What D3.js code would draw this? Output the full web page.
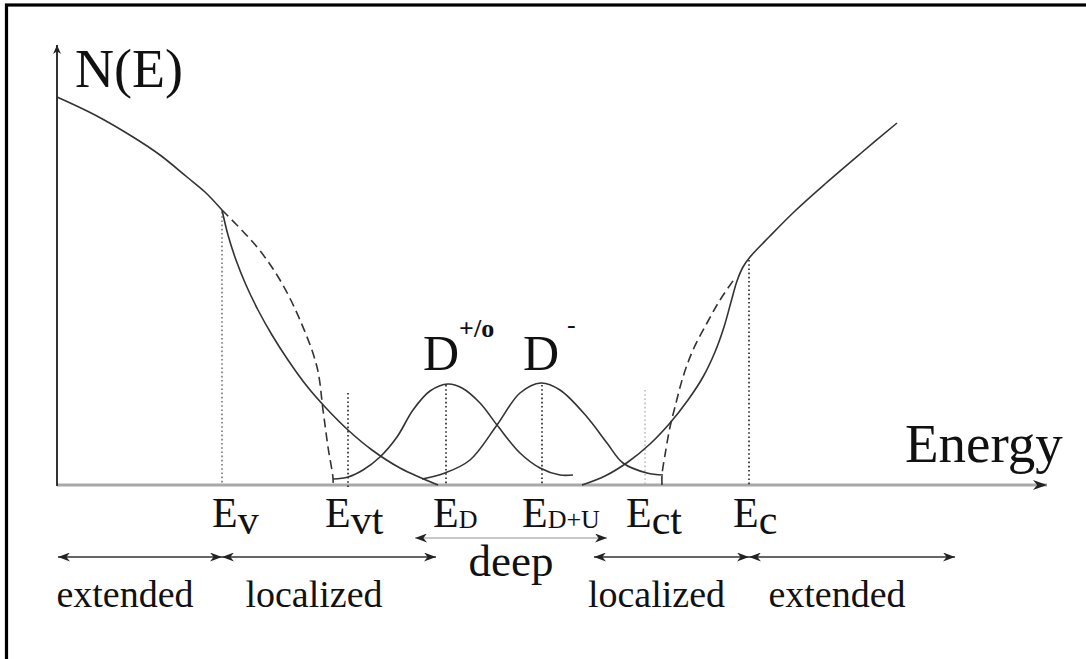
<!DOCTYPE html>
<html>
<head>
<meta charset="utf-8">
<script src="https://cdn.jsdelivr.net/npm/d3@7"></script>
<style>
  html, body { margin: 0; padding: 0; background: #fff; }
  svg { display: block; }
</style>
</head>
<body>
<svg id="chart" width="1086" height="659"></svg>
<script>
// Density of states N(E) in an amorphous semiconductor (arbitrary units).
// Each curve is a list of sampled energies and the matching N values.

// valence band, extended states up to Ev
const valenceBandE = [0.00, 0.38, 0.76, 1.03, 1.30, 1.48, 1.65];
const valenceBandN = [3.88, 3.70, 3.48, 3.30, 3.08, 2.93, 2.75];

// valence band tail (localized states above Ev)
const valenceTailE = [1.65, 1.71, 1.79, 1.89, 2.01, 2.15, 2.31, 2.49, 2.69, 2.91, 3.15, 3.43, 3.81];
const valenceTailN = [2.75, 2.50, 2.25, 2.00, 1.75, 1.50, 1.25, 1.00, 0.77, 0.55, 0.35, 0.17, 0.00];

// parabolic continuation of the valence band down to Evt (dashed)
const valenceEdgeE = [1.65, 2.00, 2.23, 2.43, 2.60, 2.66, 2.71, 2.76, 2.76];
const valenceEdgeN = [2.75, 2.38, 2.05, 1.65, 1.18, 0.75, 0.38, 0.07, 0.00];

// D+/0 defect band centred on ED
const donorE = [2.76, 2.91, 3.06, 3.23, 3.40, 3.56, 3.73, 3.91, 4.05, 4.23, 4.40, 4.63, 4.83, 5.03, 5.16];
const donorN = [0.06, 0.08, 0.15, 0.28, 0.48, 0.75, 0.94, 1.01, 0.97, 0.82, 0.60, 0.32, 0.17, 0.10, 0.10];

// D- defect band centred on ED+U
const acceptorE = [3.65, 3.88, 4.13, 4.40, 4.63, 4.84, 5.03, 5.30, 5.50, 5.66, 5.90, 6.06];
const acceptorN = [0.06, 0.12, 0.25, 0.60, 0.92, 1.02, 0.95, 0.68, 0.42, 0.22, 0.12, 0.10];

// parabolic continuation of the conduction band down to Ect (dashed)
const conductionEdgeE = [6.05, 6.05, 6.08, 6.13, 6.18, 6.26, 6.36, 6.50, 6.63, 6.78];
const conductionEdgeN = [0.00, 0.10, 0.30, 0.58, 0.78, 1.08, 1.35, 1.62, 1.85, 2.07];

// conduction band tail (localized states below Ec)
const conductionTailE = [5.25, 5.48, 5.71, 5.93, 6.13, 6.31, 6.46, 6.58, 6.67, 6.74, 6.80, 6.86, 6.93];
const conductionTailN = [0.00, 0.09, 0.23, 0.41, 0.62, 0.85, 1.08, 1.33, 1.58, 1.83, 2.04, 2.18, 2.28];

// conduction band, extended states above Ec
const conductionBandE = [7.13, 7.38, 7.68, 8.03, 8.40];
const conductionBandN = [2.49, 2.74, 3.01, 3.31, 3.62];

// characteristic energies and the height of their guide lines
const markerNames = ["v", "vt", "D", "D+U", "ct", "c"];
const markerE     = [1.65, 2.91, 3.89, 4.85, 5.88, 6.92];
const markerN     = [2.73, 0.92, 1.00, 1.00, 0.95, 2.25];

// energy ranges of the state types
const regionNames = ["extended", "localized", "deep", "localized", "extended"];
const regionFrom  = [0.01, 1.65, 3.58, 5.37, 6.92];
const regionTo    = [1.65, 3.79, 5.50, 6.92, 8.98];

const zip = (xs, ys) => xs.map((v, i) => [v, ys[i]]);

const FONT = "'Liberation Serif', Tinos, 'Times New Roman', Times, 'DejaVu Serif', serif";

const svg = d3.select("#chart").attr("font-family", FONT);
const W = 1086, H = 659;

const x = d3.scaleLinear().domain([0, 9.9]).range([57, 1047]);
const y = d3.scaleLinear().domain([0, 4.4]).range([485, 45]);

svg.append("rect").attr("width", W).attr("height", H).attr("fill", "#fff");

// frame
svg.append("rect")
  .attr("x", 6.5).attr("y", 5).attr("width", 1200).attr("height", 800)
  .attr("fill", "none").attr("stroke", "#000").attr("stroke-width", 3.2);

// arrowheads
const defs = svg.append("defs");
function arrowMarker(id, len, wid, color) {
  defs.append("marker")
    .attr("id", id)
    .attr("viewBox", `0 0 ${len} ${wid}`)
    .attr("refX", len).attr("refY", wid / 2)
    .attr("markerUnits", "userSpaceOnUse")
    .attr("markerWidth", len).attr("markerHeight", wid)
    .attr("orient", "auto-start-reverse")
    .append("path")
    .attr("d", `M0,0 L${len},${wid / 2} L0,${wid} L${len * 0.3},${wid / 2} Z`)
    .attr("fill", color);
}
arrowMarker("headAxis", 14, 10, "#222");
arrowMarker("headY", 9, 8, "#222");
arrowMarker("headRow", 12, 9, "#222");

// axes
svg.append("line")
  .attr("x1", x(0)).attr("x2", x(9.9))
  .attr("y1", y(0)).attr("y2", y(0))
  .attr("stroke", "#a8a8a8").attr("stroke-width", 3)
  .attr("marker-end", "url(#headAxis)");
svg.append("line")
  .attr("x1", x(0)).attr("x2", x(0))
  .attr("y1", y(0) + 1).attr("y2", y(4.4))
  .attr("stroke", "#333").attr("stroke-width", 2)
  .attr("marker-end", "url(#headY)");

const txt = (sel) => sel.attr("font-family", FONT).attr("fill", "#111");

txt(svg.append("text")).attr("x", 75).attr("y", 87)
  .attr("font-size", 54).text("N(E)");
txt(svg.append("text")).attr("x", 905).attr("y", 462)
  .attr("font-size", 55).text("Energy");

// guide lines at the characteristic energies
const guideColor = ["#777", "#222", "#222", "#222", "#bbb", "#222"];
svg.append("g").selectAll("line")
  .data(markerE.map((e, i) => ({ e, n: markerN[i], i })))
  .join("line")
  .attr("x1", d => x(d.e)).attr("x2", d => x(d.e))
  .attr("y1", d => y(d.n)).attr("y2", d => y(0) + (d.i === 1 ? 3 : 0))
  .attr("stroke", d => guideColor[d.i])
  .attr("stroke-width", 1.6)
  .attr("stroke-dasharray", "1.6,2.6");

// curves
const line = d3.line()
  .x(d => x(d[0])).y(d => y(d[1]))
  .curve(d3.curveCatmullRom.alpha(0.5));

const curves = [
  { pts: zip(valenceBandE, valenceBandN), dash: null },
  { pts: zip(valenceTailE, valenceTailN), dash: null },
  { pts: zip(valenceEdgeE, valenceEdgeN), dash: "9,5" },
  { pts: zip(donorE, donorN), dash: null },
  { pts: zip(acceptorE, acceptorN), dash: null },
  { pts: zip(conductionEdgeE, conductionEdgeN), dash: "9,5" },
  // the conduction tail bends smoothly into the band above Ec
  { pts: zip(conductionTailE, conductionTailN).concat(zip(conductionBandE, conductionBandN)), dash: null }
];
svg.append("g").selectAll("path")
  .data(curves)
  .join("path")
  .attr("d", d => line(d.pts))
  .attr("fill", "none")
  .attr("stroke", "#333")
  .attr("stroke-width", 1.6)
  .attr("stroke-dasharray", d => d.dash);

// energy labels under the axis
const labelDx = [-10, -23, -13, -20, -19, -16];
const smallSub = name => name.startsWith("D");
const eLabels = svg.append("g").selectAll("text")
  .data(markerNames.map((n, i) => ({ n, e: markerE[i], i })))
  .join("text")
  .call(txt)
  .attr("x", d => x(d.e) + labelDx[d.i])
  .attr("y", 527)
  .attr("font-size", 42);
eLabels.append("tspan").text("E");
eLabels.append("tspan")
  .attr("font-size", d => smallSub(d.n) ? 26 : 42)
  .attr("dy", d => smallSub(d.n) ? 1 : 7)
  .text(d => d.n);

// defect band names
const dPlus = txt(svg.append("text")).attr("x", x(markerE[2]) - 23).attr("y", 370).attr("font-size", 50);
dPlus.append("tspan").text("D");
dPlus.append("tspan").attr("font-size", 26).attr("font-weight", "bold").attr("dy", -33).text("+/o");
const dMinus = txt(svg.append("text")).attr("x", x(markerE[3]) - 19).attr("y", 370).attr("font-size", 50);
dMinus.append("tspan").text("D");
dMinus.append("tspan").attr("font-size", 26).attr("dx", 8).attr("dy", -37).text("-");

// state-type ranges
const rowY = [557, 557, 538, 557, 557];
const regions = regionNames.map((n, i) => ({ n, from: regionFrom[i], to: regionTo[i], i }));
svg.append("g").selectAll("line")
  .data(regions)
  .join("line")
  .attr("x1", d => x(d.from)).attr("x2", d => x(d.to))
  .attr("y1", d => rowY[d.i]).attr("y2", d => rowY[d.i])
  .attr("stroke", d => d.n === "deep" ? "#b5b5b5" : "#333")
  .attr("stroke-width", 1.6)
  .attr("marker-start", "url(#headRow)")
  .attr("marker-end", "url(#headRow)");

svg.append("g").selectAll("text")
  .data(regions)
  .join("text")
  .call(txt)
  .attr("x", d => (x(d.from) + x(d.to)) / 2 + (d.n === "deep" ? 0 : -15))
  .attr("y", d => d.n === "deep" ? 576 : 607)
  .attr("text-anchor", "middle")
  .attr("font-size", d => d.n === "deep" ? 45 : 38)
  .text(d => d.n);
</script>
</body>
</html>
